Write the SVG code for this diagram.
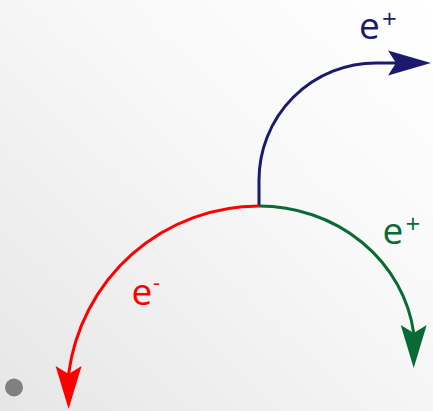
<svg xmlns="http://www.w3.org/2000/svg" width="433" height="411" viewBox="0 0 433 411">
  <defs>
    <linearGradient id="bg" x1="0" y1="1" x2="1" y2="0">
      <stop offset="0" stop-color="#e6e6e6"/>
      <stop offset="0.6" stop-color="#f8f8f8"/>
      <stop offset="1" stop-color="#ffffff"/>
    </linearGradient>
    <marker id="ah-blue" markerUnits="userSpaceOnUse" markerWidth="60" markerHeight="40" refX="0" refY="0" orient="0" overflow="visible">
      <path d="M35,0 L-8,-12.5 L0,0 L-8,12.5 Z" fill="#1c1a6c"/>
    </marker>
    <marker id="ah-red" markerUnits="userSpaceOnUse" markerWidth="60" markerHeight="40" refX="0" refY="0" orient="90" overflow="visible">
      <path d="M35,0 L-8,-13 L0,0 L-8,13 Z" fill="#ff0000"/>
    </marker>
    <marker id="ah-green" markerUnits="userSpaceOnUse" markerWidth="60" markerHeight="40" refX="0" refY="0" orient="90" overflow="visible">
      <path d="M35,0 L-8,-13 L0,0 L-8,13 Z" fill="#0a6a36"/>
    </marker>
  </defs>
  <style>
    .arc { fill: none; stroke-width: 3; }
    .lbl { font-family: "Open Sans", "Liberation Sans", sans-serif; font-size: 37px; }
  </style>
  <rect x="0" y="0" width="433" height="411" fill="url(#bg)"/>
  <g id="connectors">
    <path id="positron-up" class="arc" stroke="#1c1a6c" d="M259,206 L259,180 A117,117 0 0 1 376,63 L396,63" marker-end="url(#ah-blue)"/>
    <path id="electron" class="arc" stroke="#ff0000" d="M259,206 A192,193 0 0 0 68.6,374" marker-end="url(#ah-red)"/>
    <path id="positron-down" class="arc" stroke="#0a6a36" d="M259,206 A156,146 0 0 1 413.7,333" marker-end="url(#ah-green)"/>
  </g>
  <g id="label-positron-up">
    <text class="lbl" x="359" y="39" fill="#1c1a6c">e<tspan x="382" y="28" font-size="26">+</tspan></text>
  </g>
  <g id="label-positron-down">
    <text class="lbl" x="382.5" y="244" fill="#0a6a36">e<tspan x="405.5" y="233" font-size="26">+</tspan></text>
  </g>
  <g id="label-electron">
    <text class="lbl" x="131.5" y="305" fill="#ff0000">e<tspan x="153" y="290" font-size="22">-</tspan></text>
  </g>
  <g id="dot">
    <circle cx="14" cy="387.5" r="9" fill="#808080"/>
  </g>
</svg>
